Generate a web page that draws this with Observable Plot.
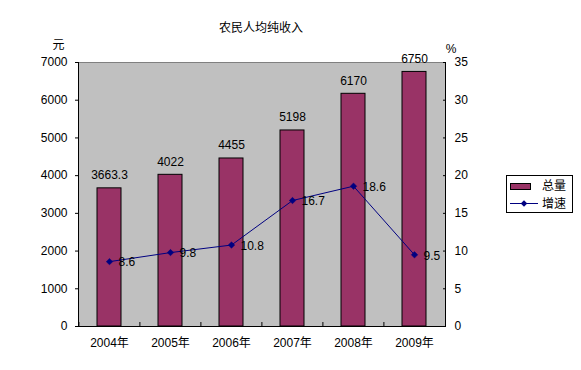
<!DOCTYPE html>
<html>
<head>
<meta charset="utf-8">
<script src="https://cdn.jsdelivr.net/npm/d3@7"></script>
<script src="https://cdn.jsdelivr.net/npm/@observablehq/plot@0.6"></script>
<style>
  html, body { margin: 0; padding: 0; background: #fff; }
  #chart { width: 581px; height: 370px; }
</style>
</head>
<body>
<div id="chart"></div>
<script>
const years = ["2004年", "2005年", "2006年", "2007年", "2008年", "2009年"];
const totals = [3663.3, 4022, 4455, 5198, 6170, 6750];
const growth = [8.6, 9.8, 10.8, 16.7, 18.6, 9.5];
const leftTicks = [0, 1000, 2000, 3000, 4000, 5000, 6000, 7000];
const rightTicks = [0, 5, 10, 15, 20, 25, 30, 35];
const title = "农民人均纯收入";
const leftUnit = "元";
const rightUnit = "%";
const legendLabels = ["总量", "增速"];

const ratio = 7000 / 35; // secondary axis mapping
const data = years.map((y, i) => ({year: y, total: totals[i], growth: growth[i]}));

const FONT = "'Liberation Sans', 'Noto Sans CJK SC', sans-serif";
const BAR = "#993366";
const LINE = "#000080";

const chart = Plot.plot({
  width: 581,
  height: 370,
  marginLeft: 78,
  marginRight: 136,
  marginTop: 62,
  marginBottom: 44,
  style: {fontFamily: FONT, fontSize: "12px", color: "black", background: "white"},
  x: {domain: years, paddingInner: 0.6, paddingOuter: 0.3, label: null},
  y: {domain: [0, 7000], label: null},
  marks: [
    Plot.frame({fill: "#c0c0c0", stroke: "#808080"}),
    Plot.barY(data, {x: "year", y: "total", fill: BAR, stroke: "black", strokeWidth: 1}),
    Plot.ruleY([0], {stroke: "black"}),
    Plot.frame({anchor: "left", stroke: "black"}),
    Plot.frame({anchor: "right", stroke: "black"}),
    Plot.ruleX(data, {x: "year", dx: -30.6, y1: 0, y2: 0, insetBottom: 4, stroke: "black"}),
    Plot.axisY({ticks: leftTicks, tickFormat: d => String(d), tickSize: 3, tickPadding: 8, label: null, fontSize: 12}),
    Plot.axisY({anchor: "right", ticks: rightTicks.map(t => t * ratio), tickFormat: d => String(d / ratio),
      tickSize: -3, tickPadding: 12, label: null, fontSize: 12}),
    Plot.axisX({tickSize: 0, tickPadding: 12, label: null, fontSize: 12}),
    Plot.line(data, {x: "year", y: d => d.growth * ratio, stroke: LINE, strokeWidth: 1}),
    Plot.dot(data, {x: "year", y: d => d.growth * ratio, symbol: "diamond2", r: 2.9, fill: LINE, stroke: LINE, strokeWidth: 0.5}),
    Plot.text(data, {x: "year", y: "total", text: d => String(d.total), dy: -13, fill: "black", fontSize: 12}),
    Plot.text(data, {x: "year", y: d => d.growth * ratio, text: d => String(d.growth), dx: 9, dy: 1, textAnchor: "start", fill: "black", fontSize: 12}),
    Plot.text([title], {frameAnchor: "top", dx: -1, dy: -39, fill: "black", fontSize: 12}),
    Plot.text([leftUnit], {frameAnchor: "top-left", dx: -26, dy: -22, fill: "black", fontSize: 12}),
    Plot.text([rightUnit], {frameAnchor: "top-right", dx: 11, dy: -18, fill: "black", fontSize: 12})
  ]
});

// Legend
const svg = d3.select(chart);
const lg = svg.append("g").attr("font-family", FONT).attr("font-size", 12).attr("text-anchor", "start");
lg.append("rect").attr("x", 506.5).attr("y", 175.5).attr("width", 66).attr("height", 37)
  .attr("fill", "white").attr("stroke", "black");
lg.append("rect").attr("x", 510.5).attr("y", 183.5).attr("width", 20).attr("height", 6)
  .attr("fill", BAR).attr("stroke", "black");
lg.append("text").attr("x", 542).attr("y", 186).attr("dy", "0.35em").attr("text-anchor", "start").attr("fill", "black").text(legendLabels[0]);
lg.append("line").attr("x1", 510).attr("x2", 538).attr("y1", 203.5).attr("y2", 203.5)
  .attr("stroke", LINE);
lg.append("path").attr("d", d3.symbol(d3.symbolDiamond2, Math.PI * 2.9 * 2.9)())
  .attr("transform", "translate(524,203.5)").attr("fill", LINE);
lg.append("text").attr("x", 542).attr("y", 203.5).attr("dy", "0.35em").attr("text-anchor", "start").attr("fill", "black").text(legendLabels[1]);

document.getElementById("chart").appendChild(chart);
</script>
</body>
</html>
